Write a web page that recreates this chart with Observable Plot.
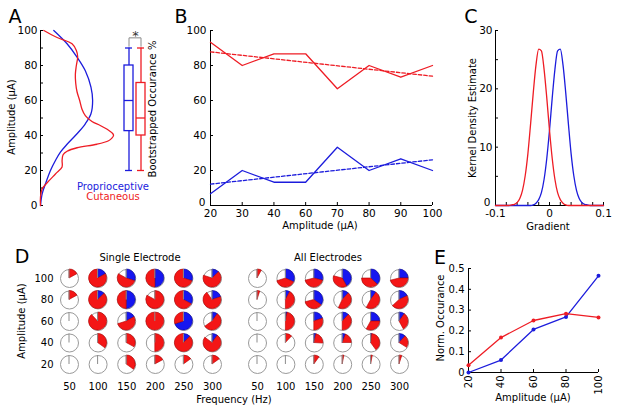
<!DOCTYPE html>
<html><head><meta charset="utf-8">
<script src="https://cdn.jsdelivr.net/npm/d3@7"></script>
<script src="https://cdn.jsdelivr.net/npm/@observablehq/plot@0.6"></script>
<style>
body{margin:0;background:#fff}
#chart{position:relative;width:617px;height:413px;overflow:hidden;background:#fff;font-family:"DejaVu Sans",sans-serif}
#chart svg{position:absolute;left:0;top:0}
.lbl{position:absolute;white-space:nowrap;line-height:1;transform-origin:center}
</style></head><body><div id="chart"></div>
<script>
const W = 617, H = 413;
const RED = "#ee1c24", BLUE = "#1c1cdc";
const PIE_RED = "#f41616", PIE_BLUE = "#1616f0";

// ---------- Panel A data ----------
const ampRedA  = [0,4.8,9.5,13,18,22,25.7,29,31,33,35,37,38.5,40,41,43,45.7,48,51.4,55,60,65,70,75,80,85,88.6,92.4,96,100];
const densRedA = [0,0,5,20,45,65,65,68,80,110,170,205,215,220,218,205,180,155,135,125,118,110,106,105,108,112,108,95,50,10];
const ampBlueA  = [0,6.7,12.4,20,25.7,30.5,35,41,46.7,52.4,60,67.6,77,84.8,92.4,100];
const densBlueA = [0,5,15,30,45,60,80,110,135,152,157,152,135,110,80,40];
const groupsA = ["Proprioceptive", "Cutaneous"];
const whiskerLoA = [20, 20];
const q1A = [42.5, 40];
const medianA = [60, 50];
const q3A = [80, 70];
const whiskerHiA = [90, 90];
const bracketLowA = 91, bracketHighA = 95.8;
const yTicksA = [0,10,20,30,40,50,60,70,80,90,100];
const yLabelsA = [0,20,40,60,80,100];

// ---------- Panel B data ----------
const ampLabelsB = ["20","30","40","60","70","80","90","100"];
const occRedB  = [93.3, 80, 86.7, 86.7, 66.7, 80, 73.3, 80];
const occBlueB = [6.7, 20, 13.3, 13.3, 33.3, 20, 26.7, 20];
const yTicksB = [0,20,40,60,80,100];

// ---------- Panel C data ----------
const gradC = [-0.1,-0.08,-0.075,-0.07,-0.065,-0.06,-0.055,-0.05,-0.045,-0.04,-0.035,-0.03,-0.025,-0.02,-0.015,-0.01,-0.005,0,0.005,0.01,0.015,0.02,0.025,0.03,0.035,0.04,0.045,0.05,0.055,0.06,0.065,0.07,0.075,0.08,0.1];
const kdeRedC  = [0,0,0,0.1,0.2,0.5,1.2,2.6,5.1,8.9,14.0,19.4,24.1,26.8,26.5,23.3,18.4,12.9,8.1,4.5,2.2,1.0,0.4,0.1,0,0,0,0,0,0,0,0,0,0,0];
const kdeBlueC = [0,0,0,0,0,0,0,0,0,0,0,0.1,0.4,1.0,2.2,4.5,8.1,12.9,18.4,23.3,26.5,26.8,24.1,19.4,14.0,8.9,5.1,2.6,1.2,0.5,0.2,0.1,0,0,0];
const xTicksC = [-0.1,-0.08,-0.06,-0.04,-0.02,0,0.02,0.04,0.06,0.08,0.1];
const xLabelsC = [-0.1, 0, 0.1];
const yTicksC = [0,5,10,15,20,25,30];
const yLabelsC = [0,10,20,30];

// ---------- Panel D data (rows: amplitude, cols: frequency) ----------
const freqD = [50,100,150,200,250,300];
const ampD = [100,80,60,40,20];
const singleBlue = [
  [0, 0.17, 0.30, 0.50, 0.30, 0.13],
  [0, 0.13, 0.50, 0,    0.33, 0.20],
  [0, 0,    0.17, 0,    0.70, 0.10],
  [0, 0,    0,    0,    0.13, 0.10],
  [0, 0,    0,    0,    0,    0   ]];
const singleRed = [
  [0.17, 0.83, 0.53, 0.50, 0.70, 0.67],
  [0.17, 0.87, 0.50, 0.83, 0.67, 0.70],
  [0,    0.88, 0.53, 1.00, 0.30, 0.55],
  [0,    0.35, 0.33, 0.50, 0.87, 0.75],
  [0,    0,    0.35, 0.17, 0.15, 0.15]];
const allBlue = [
  [0, 0.32, 0.29, 0.42, 0.37, 0.25],
  [0, 0.08, 0.35, 0.12, 0.10, 0.18],
  [0, 0.03, 0.20, 0.12, 0.25, 0.10],
  [0, 0,    0.04, 0.06, 0.02, 0.12],
  [0, 0,    0,    0,    0,    0   ]];
const allRed = [
  [0.08, 0.38, 0.42, 0.37, 0.38, 0.46],
  [0.05, 0.42, 0.36, 0.45, 0.48, 0.45],
  [0,    0.47, 0.30, 0.38, 0.33, 0.32],
  [0,    0.12, 0.22, 0.19, 0.38, 0.22],
  [0,    0,    0.10, 0.03, 0.03, 0.05]];

// ---------- Panel E data ----------
const ampE = [20, 40, 60, 80, 100];
const normRedE  = [0.035, 0.168, 0.25, 0.283, 0.265];
const normBlueE = [0, 0.06, 0.207, 0.267, 0.465];
const yTicksE = [0,0.1,0.2,0.3,0.4,0.5];

// ---------- helpers ----------
const chart = document.getElementById("chart");
function addPlot(opts, fontSize = 10.5) {
  const svg = Plot.plot({width: W, height: H, ...opts,
    style: {fontFamily: '"DejaVu Sans", sans-serif', fontSize: fontSize + "px", background: "transparent", overflow: "visible", color: "#000"}});
  svg.style.position = "absolute"; svg.style.left = "0px"; svg.style.top = "0px";
  svg.style.background = "transparent"; svg.style.maxWidth = "none";
  chart.appendChild(svg);
}
function label(text, cx, cy, {size = 10, color = "#000", rotate = 0} = {}) {
  const d = document.createElement("div");
  d.className = "lbl"; d.textContent = text;
  d.style.left = cx + "px"; d.style.top = cy + "px";
  d.style.fontSize = size + "px"; d.style.color = color;
  d.style.transform = `translate(-50%,-50%) rotate(${rotate}deg)`;
  chart.appendChild(d);
}
const pts = (xs, ys) => xs.map((x, i) => ({x, y: ys[i]}));

// ---------- Panel A: densities ----------
addPlot({
  marginLeft: 40, marginRight: W - 123, marginTop: 30, marginBottom: H - 205,
  x: {domain: [0, 250], axis: null}, y: {domain: [0, 100], axis: null},
  marks: [
    Plot.ruleX([0], {y1: 0, y2: 100, stroke: "#000"}),
    Plot.tickY(yTicksA, {y: d => d, insetRight: 80, stroke: "#000"}),
    Plot.axisY({ticks: yLabelsA, tickSize: 0, tickPadding: 3, label: null}),
    Plot.line(pts(densBlueA, ampBlueA), {x: "x", y: "y", stroke: BLUE, strokeWidth: 1.3, curve: "catmull-rom"}),
    Plot.line(pts(densRedA, ampRedA), {x: "x", y: "y", stroke: RED, strokeWidth: 1.3, curve: "catmull-rom"})
  ]
});

// ---------- Panel A: box plots ----------
const boxA = groupsA.map((g, i) => ({g, lo: whiskerLoA[i], q1: q1A[i], med: medianA[i], q3: q3A[i], hi: whiskerHiA[i]}));
const bracketA = [
  {g: groupsA[0], y: bracketLowA}, {g: groupsA[0], y: bracketHighA},
  {g: groupsA[1], y: bracketHighA}, {g: groupsA[1], y: bracketLowA}];
addPlot({
  x: {type: "band", domain: groupsA, range: [123.5, 146.5], paddingInner: 0.23, paddingOuter: 0, axis: null},
  y: {domain: [0, 100], range: [205, 30], axis: null},
  color: {domain: groupsA, range: [BLUE, RED]},
  marks: [
    Plot.ruleX(boxA, {x: "g", y1: "lo", y2: "q1", stroke: "g", strokeWidth: 1.3}),
    Plot.ruleX(boxA, {x: "g", y1: "q3", y2: "hi", stroke: "g", strokeWidth: 1.3}),
    Plot.barY(boxA, {x: "g", y1: "q1", y2: "q3", fill: "none", stroke: "g", strokeWidth: 1.3}),
    Plot.tickY(boxA, {x: "g", y: "med", stroke: "g", strokeWidth: 1.3}),
    Plot.tickY(boxA, {x: "g", y: "lo", stroke: "g", strokeWidth: 1.3, inset: 1}),
    Plot.tickY(boxA, {x: "g", y: "hi", stroke: "g", strokeWidth: 1.3, inset: 1}),
    Plot.line(bracketA, {x: "g", y: "y", stroke: "#8a8a8a", strokeWidth: 1}),
    Plot.text(["*"], {x: () => groupsA[0], y: () => bracketHighA, text: d => d, dx: 6.5, dy: -2, lineAnchor: "middle", fontSize: 13, fill: "#333"})
  ]
});

// ---------- Panel B ----------
const idxB = ampLabelsB.map((_, i) => i);
addPlot({
  marginLeft: 210, marginRight: W - 432, marginTop: 30, marginBottom: H - 205,
  x: {domain: [0, 7], axis: null}, y: {domain: [0, 100], axis: null},
  marks: [
    Plot.ruleX([0], {y1: 0, y2: 100, stroke: "#000"}),
    Plot.ruleY([0], {x1: 0, x2: 7, stroke: "#000"}),
    Plot.tickY(yTicksB, {y: d => d, insetRight: 219, stroke: "#000"}),
    Plot.tickX(idxB, {x: d => d, insetTop: 172, stroke: "#000"}),
    Plot.axisY({ticks: yTicksB.slice(1), tickSize: 0, tickPadding: 4, label: null}),
    Plot.axisY({ticks: yTicksB.slice(0, 1), tickSize: 0, tickPadding: 5, dy: -3, label: null}),
    Plot.axisX({ticks: idxB, tickFormat: i => ampLabelsB[i], tickSize: 0, tickPadding: 4.5, label: null}),
    Plot.linearRegressionY(occRedB, {x: (d, i) => i, y: d => d, ci: 0, stroke: RED, strokeWidth: 1.3, strokeDasharray: "3.5,2"}),
    Plot.linearRegressionY(occBlueB, {x: (d, i) => i, y: d => d, ci: 0, stroke: BLUE, strokeWidth: 1.3, strokeDasharray: "3.5,2"}),
    Plot.line(occRedB, {x: (d, i) => i, y: d => d, stroke: RED, strokeWidth: 1.3}),
    Plot.line(occBlueB, {x: (d, i) => i, y: d => d, stroke: BLUE, strokeWidth: 1.3})
  ]
});

// ---------- Panel C ----------
addPlot({
  marginLeft: 495, marginRight: W - 603, marginTop: 30, marginBottom: H - 205,
  x: {domain: [-0.1, 0.1], axis: null}, y: {domain: [0, 30], axis: null},
  marks: [
    Plot.ruleX([-0.1], {y1: 0, y2: 30, stroke: "#000"}),
    Plot.ruleY([0], {x1: -0.1, x2: 0.1, stroke: "#000"}),
    Plot.tickY(yTicksC, {y: d => d, insetRight: 105, stroke: "#000"}),
    Plot.tickX(xTicksC, {x: d => d, insetTop: 172, stroke: "#000"}),
    Plot.axisY({ticks: yLabelsC.slice(1), tickSize: 0, tickPadding: 3, label: null}),
    Plot.axisY({ticks: yLabelsC.slice(0, 1), tickSize: 0, tickPadding: 5, dy: -3, label: null}),
    Plot.axisX({ticks: xLabelsC, tickFormat: d => String(d), tickSize: 0, tickPadding: 4.5, label: null}),
    Plot.line(pts(gradC, kdeBlueC), {x: "x", y: "y", stroke: BLUE, strokeWidth: 1.3, curve: "monotone-x"}),
    Plot.line(pts(gradC, kdeRedC), {x: "x", y: "y", stroke: RED, strokeWidth: 1.3, curve: "monotone-x"})
  ]
});

// ---------- Panel D ----------
const R = 9;
function pieCells() {
  const out = [];
  ampD.forEach(a => freqD.forEach(f => out.push({f, a})));
  return out;
}
function pieMark(blueRows, redRows) {
  return (index, scales) => {
    const g = d3.create("svg:g");
    const arc = d3.arc().innerRadius(0).outerRadius(R);
    const T = 2 * Math.PI;
    ampD.forEach((a, ri) => freqD.forEach((f, ci) => {
      const b = blueRows[ri][ci], r = redRows[ri][ci];
      const cg = g.append("g").attr("transform", `translate(${scales.x(f)},${scales.y(a)})`);
      if (b > 0) cg.append("path").attr("d", arc({startAngle: 0, endAngle: b * T}))
        .attr("fill", PIE_BLUE).attr("stroke", "#0000a0").attr("stroke-width", 0.6);
      if (r > 0) cg.append("path").attr("d", arc({startAngle: b * T, endAngle: (b + r) * T}))
        .attr("fill", PIE_RED).attr("stroke", "#b00000").attr("stroke-width", 0.6);
      cg.append("line").attr("x1", 0).attr("y1", 0).attr("x2", 0).attr("y2", -R)
        .attr("stroke", "#8c8c8c").attr("stroke-width", 1);
    }));
    return g.node();
  };
}
addPlot({
  marginLeft: 69, marginRight: W - 212, marginTop: 278, marginBottom: H - 364,
  x: {domain: [50, 300], axis: null}, y: {domain: [20, 100], axis: null},
  marks: [
    Plot.axisY({ticks: ampD, tickSize: 0, tickPadding: 16, label: null}),
    Plot.axisX({ticks: freqD, tickSize: 0, tickPadding: 18, label: null}),
    Plot.dot(pieCells(), {x: "f", y: "a", r: R, fill: "#fff", stroke: "#9a9a9a", strokeWidth: 1}),
    pieMark(singleBlue, singleRed)
  ]
}, 10);
addPlot({
  marginLeft: 257, marginRight: W - 399, marginTop: 278, marginBottom: H - 364,
  x: {domain: [50, 300], axis: null}, y: {domain: [20, 100], axis: null},
  marks: [
    Plot.axisX({ticks: freqD, tickSize: 0, tickPadding: 18, label: null}),
    Plot.dot(pieCells(), {x: "f", y: "a", r: R, fill: "#fff", stroke: "#9a9a9a", strokeWidth: 1}),
    pieMark(allBlue, allRed)
  ]
}, 10);

// ---------- Panel E ----------
addPlot({
  marginLeft: 468, marginRight: W - 598, marginTop: 268, marginBottom: H - 372,
  x: {domain: [20, 100], axis: null}, y: {domain: [0, 0.5], axis: null},
  marks: [
    Plot.ruleX([20], {y1: 0, y2: 0.5, stroke: "#000"}),
    Plot.ruleY([0], {x1: 20, x2: 100, stroke: "#000"}),
    Plot.tickY(yTicksE, {y: d => d, insetRight: 127, stroke: "#000"}),
    Plot.tickX(ampE, {x: d => d, insetTop: 101, stroke: "#000"}),
    Plot.axisY({ticks: yTicksE, tickFormat: d => String(d), tickSize: 0, tickPadding: 4, label: null}),
    Plot.axisX({ticks: ampE, tickSize: 0, tickPadding: 3, tickRotate: -90, label: null}),
    Plot.line(pts(ampE, normBlueE), {x: "x", y: "y", stroke: BLUE, strokeWidth: 1.3}),
    Plot.line(pts(ampE, normRedE), {x: "x", y: "y", stroke: RED, strokeWidth: 1.3}),
    Plot.dot(pts(ampE, normBlueE), {x: "x", y: "y", r: 2, fill: BLUE}),
    Plot.dot(pts(ampE, normRedE), {x: "x", y: "y", r: 2, fill: RED})
  ]
}, 10);

// ---------- text labels ----------
label("A", 15, 16, {size: 19});
label("B", 181, 16, {size: 19});
label("C", 471, 16, {size: 19});
label("D", 22, 256, {size: 19});
label("E", 440, 257, {size: 19});
label("Amplitude (µA)", 12, 117, {rotate: -90});
label("Proprioceptive", 113, 187, {color: BLUE});
label("Cutaneous", 113, 197, {color: RED});
label("Bootstrapped Occurance %", 153, 109, {rotate: -90});
label("Amplitude (µA)", 320, 226);
label("Kernel Density Estimate", 473, 118, {rotate: -90});
label("Gradient", 548, 227);
label("Single Electrode", 140, 258);
label("All Electrodes", 328, 258);
label("Amplitude (µA)", 22, 321, {rotate: -90});
label("Frequency (Hz)", 234, 400);
label("Norm. Occurance", 441, 318, {rotate: -90});
label("Amplitude (µA)", 533, 398);
</script></body></html>
